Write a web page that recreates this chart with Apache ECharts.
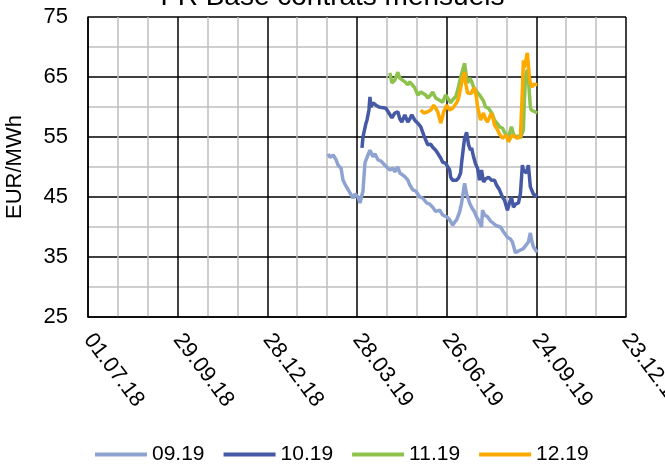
<!DOCTYPE html>
<html>
<head>
<meta charset="utf-8">
<script src="https://cdn.jsdelivr.net/npm/echarts@6/dist/echarts.min.js"></script>
<style>
  html, body { margin: 0; padding: 0; background: #fff; }
  #main { width: 665px; height: 465px; }
</style>
</head>
<body>
<div id="main"></div>
<script>
// x values are days counted from 01.07.18
var startDate = new Date(2018, 6, 1);
var seriesNames = ['09.19', '10.19', '11.19', '12.19'];
var colors = ['#8FA3D2', '#4559A5', '#8DC24C', '#FDAA00'];

var days0919 = [241, 243, 246, 249, 251, 254, 256, 259, 263, 266, 268, 271, 273, 275, 276, 278, 281, 283, 286, 288, 291, 294, 298, 300, 303, 306, 308, 311, 313, 315, 318, 321, 323, 326, 329, 333, 336, 340, 343, 346, 349, 353, 356, 360, 363, 366, 368, 370, 373, 375, 378, 380, 381, 383, 385, 388, 390, 393, 395, 396, 398, 401, 404, 406, 410, 414, 417, 421, 424, 426, 429, 432, 434, 437, 439, 442, 444, 445, 447, 449, 451];
var vals0919 = [52.2, 51.6, 52.0, 51.2, 50.3, 49.8, 47.8, 46.8, 45.7, 44.8, 45.5, 45.0, 44.0, 43.7, 46.0, 50.7, 52.0, 52.8, 51.7, 52.2, 51.2, 51.0, 50.3, 50.6, 49.5, 49.8, 49.2, 50.0, 49.0, 48.7, 48.4, 47.8, 47.0, 46.2, 46.0, 45.0, 44.8, 44.0, 43.8, 43.3, 42.6, 42.8, 42.0, 41.7, 41.2, 40.3, 40.8, 41.2, 42.5, 44.0, 47.3, 45.5, 45.0, 44.0, 43.3, 42.5, 41.7, 40.8, 40.0, 42.8, 42.0, 41.7, 41.0, 40.8, 40.2, 40.0, 39.2, 38.3, 38.0, 37.5, 35.7, 36.0, 36.2, 36.4, 36.7, 37.5, 39.0, 38.0, 36.7, 36.2, 35.8];

var days1019 = [275, 276, 279, 280, 282, 283, 284, 286, 289, 292, 295, 299, 302, 305, 308, 311, 313, 315, 318, 321, 323, 325, 328, 331, 334, 337, 339, 341, 344, 346, 349, 351, 354, 356, 359, 361, 363, 364, 366, 368, 370, 372, 374, 375, 377, 378, 380, 382, 384, 385, 387, 389, 391, 393, 395, 397, 399, 402, 405, 408, 410, 413, 416, 418, 421, 423, 425, 427, 429, 432, 434, 436, 437, 440, 442, 444, 447, 451];
var vals1019 = [53.2, 55.0, 57.3, 57.8, 59.5, 61.7, 60.0, 60.7, 60.3, 60.0, 59.9, 59.8, 59.0, 58.2, 59.0, 59.2, 58.0, 57.5, 58.7, 57.5, 58.0, 58.7, 57.8, 57.3, 56.7, 55.3, 54.5, 53.7, 53.8, 53.3, 52.8, 52.3, 51.5, 50.8, 50.6, 50.3, 49.5, 48.3, 47.8, 47.5, 47.8, 48.2, 49.0, 50.7, 53.5, 54.8, 55.8, 53.7, 52.8, 53.2, 51.7, 50.5, 49.8, 47.8, 49.5, 47.5, 48.0, 48.3, 47.8, 47.8, 47.0, 46.2, 45.0, 44.5, 42.8, 44.0, 45.0, 43.3, 43.8, 44.0, 45.5, 50.3, 49.5, 49.0, 50.3, 46.7, 45.5, 45.0];

var days1119 = [303, 305, 308, 311, 313, 315, 318, 321, 323, 325, 328, 331, 334, 336, 339, 341, 344, 346, 349, 356, 359, 361, 364, 366, 369, 371, 373, 375, 377, 378, 380, 381, 383, 385, 387, 389, 393, 395, 397, 399, 402, 404, 406, 408, 411, 413, 416, 418, 421, 423, 425, 427, 429, 432, 434, 436, 437, 438, 439, 440, 441, 442, 443, 444, 445, 447, 451];
var vals1119 = [65.7, 64.0, 64.5, 65.8, 64.8, 64.5, 64.2, 63.7, 64.2, 64.0, 63.2, 62.0, 62.5, 62.8, 62.0, 61.5, 62.0, 62.5, 61.5, 60.8, 62.0, 61.8, 60.7, 61.2, 61.7, 62.8, 64.2, 65.5, 66.7, 67.3, 64.8, 64.0, 64.8, 64.3, 63.3, 62.8, 62.0, 62.3, 61.0, 60.0, 59.8, 59.5, 58.8, 57.8, 57.2, 56.7, 56.5, 55.8, 55.0, 55.5, 56.7, 55.5, 55.0, 55.2, 54.8, 55.0, 56.2, 61.0, 64.5, 65.7, 66.2, 65.0, 62.3, 60.0, 59.5, 59.3, 59.0];

var days1219 = [334, 337, 341, 344, 347, 349, 351, 353, 354, 356, 357, 360, 363, 366, 370, 372, 373, 375, 376, 378, 379, 381, 383, 385, 386, 388, 390, 391, 394, 397, 399, 401, 403, 405, 407, 408, 411, 413, 416, 418, 420, 422, 424, 426, 428, 431, 434, 435, 436, 437, 438, 440, 441, 442, 443, 444, 446, 447, 449, 451];
var vals1219 = [59.5, 59.0, 59.2, 59.5, 60.3, 59.8, 59.2, 58.0, 57.3, 58.5, 59.2, 60.3, 59.5, 59.8, 60.7, 61.5, 62.3, 64.0, 65.0, 65.8, 64.0, 62.3, 62.0, 62.3, 62.8, 63.2, 61.5, 60.0, 57.8, 59.0, 58.0, 57.5, 58.3, 59.0, 57.8, 57.0, 56.2, 55.5, 54.8, 55.0, 55.3, 54.2, 54.8, 55.3, 55.0, 54.8, 55.0, 55.2, 62.8, 67.8, 66.5, 68.3, 69.0, 67.0, 65.0, 64.0, 63.3, 63.8, 63.5, 63.7];

var allDays = [days0919, days1019, days1119, days1219];
var allVals = [vals0919, vals1019, vals1119, vals1219];

function pad(n) {
  return (n < 10 ? '0' : '') + n;
}

function dayLabel(day) {
  var d = new Date(startDate.getTime());
  d.setDate(d.getDate() + day);
  return pad(d.getDate()) + '.' + pad(d.getMonth() + 1) + '.' + pad(d.getFullYear() % 100);
}

var series = seriesNames.map(function (name, i) {
  return {
    name: name,
    type: 'line',
    symbol: 'none',
    lineStyle: { width: 3.5, color: colors[i] },
    itemStyle: { color: colors[i] },
    data: allDays[i].map(function (d, j) {
      return [d, allVals[i][j]];
    })
  };
});

var myChart = echarts.init(document.getElementById('main'));
myChart.setOption({
  animation: false,
  textStyle: { fontFamily: 'Liberation Sans, Arial, sans-serif' },
  title: {
    text: 'FR Base contrats mensuels',
    left: 'center',
    top: -17,
    padding: 0,
    textStyle: { fontSize: 28, fontWeight: 'normal', color: '#000' }
  },
  legend: {
    data: seriesNames,
    left: 95,
    top: 444,
    padding: 0,
    icon: 'rect',
    itemWidth: 52,
    itemHeight: 4,
    itemGap: 19,
    textStyle: { fontSize: 21, color: '#000' }
  },
  grid: {
    left: 88, right: 39, top: 17, bottom: 148,
    containLabel: false,
    outerBoundsMode: 'none'
  },
  xAxis: {
    type: 'value',
    min: 0,
    max: 540,
    interval: 90,
    axisLine: { show: true, lineStyle: { color: '#000', width: 1.5 } },
    axisTick: { show: false },
    minorTick: { show: false, splitNumber: 3 },
    splitLine: { show: true, lineStyle: { color: '#000', width: 1.5 } },
    minorSplitLine: { show: true, lineStyle: { color: '#BFBFBF', width: 1.5 } },
    axisLabel: {
      rotate: -53,
      margin: 19,
      fontSize: 22,
      color: '#000',
      formatter: function (v) { return dayLabel(v); }
    }
  },
  yAxis: {
    type: 'value',
    min: 25,
    max: 75,
    interval: 5,
    name: 'EUR/MWh',
    nameLocation: 'middle',
    nameRotate: 90,
    nameGap: 62,
    nameTextStyle: { fontSize: 22, color: '#000' },
    axisLine: { show: true, lineStyle: { color: '#000', width: 1.5 } },
    axisTick: { show: false },
    splitLine: { show: true, lineStyle: { color: ['#000', '#BFBFBF'], width: 1.5 } },
    axisLabel: {
      margin: 20,
      fontSize: 22,
      color: '#000',
      formatter: function (v) { return (v - 25) % 10 === 0 ? String(v) : ''; }
    }
  },
  series: series
});
</script>
</body>
</html>
